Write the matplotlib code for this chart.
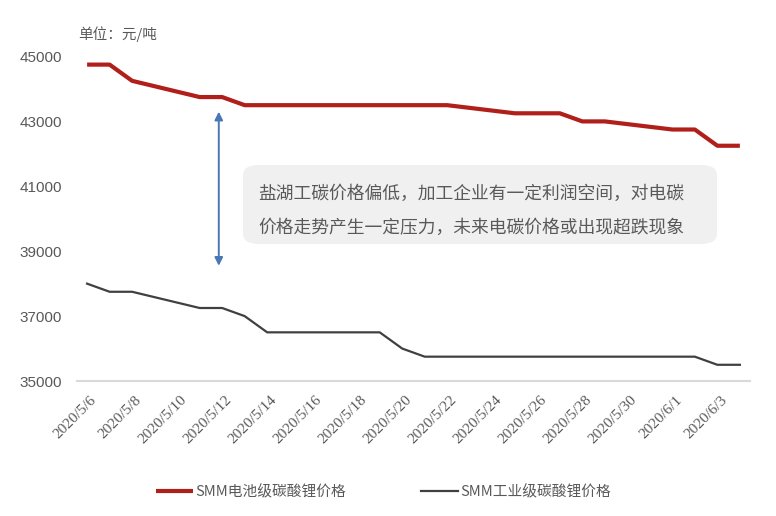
import matplotlib
matplotlib.use("Agg")
import matplotlib.pyplot as plt
import matplotlib.transforms as mtransforms
import pandas as pd

# ---- data ----
dates = ["2020/5/6", "2020/5/7", "2020/5/8", "2020/5/11", "2020/5/12", "2020/5/13",
         "2020/5/14", "2020/5/15", "2020/5/18", "2020/5/19", "2020/5/20", "2020/5/21",
         "2020/5/22", "2020/5/25", "2020/5/26", "2020/5/27", "2020/5/28", "2020/5/29",
         "2020/6/1", "2020/6/2", "2020/6/3", "2020/6/4"]
battery = [44750, 44750, 44250, 43750, 43750, 43500,
           43500, 43500, 43500, 43500, 43500, 43500,
           43500, 43250, 43250, 43250, 43000, 43000,
           42750, 42750, 42250, 42250]
industrial = [38000, 37750, 37750, 37250, 37250, 37000,
              36500, 36500, 36500, 36500, 36000, 35750,
              35750, 35750, 35750, 35750, 35750, 35750,
              35750, 35750, 35500, 35500]
tick_labels = ["2020/5/6", "2020/5/8", "2020/5/10", "2020/5/12", "2020/5/14",
               "2020/5/16", "2020/5/18", "2020/5/20", "2020/5/22", "2020/5/24",
               "2020/5/26", "2020/5/28", "2020/5/30", "2020/6/1", "2020/6/3"]
y_ticks = [35000, 37000, 39000, 41000, 43000, 45000]
series_names = ["SMM电池级碳酸锂价格", "SMM工业级碳酸锂价格"]
unit_label = "单位：元/吨"
note = "盐湖工碳价格偏低，加工企业有一定利润空间，对电碳\n价格走势产生一定压力，未来电碳价格或出现超跌现象"

plt.rcParams['font.family'] = ['Noto Sans CJK SC', 'DejaVu Sans']
TXT = "#595959"

base = pd.Timestamp("2020-05-06")
x = [(pd.Timestamp(d.replace("/", "-")) - base).days for d in dates]
tx = [(pd.Timestamp(d.replace("/", "-")) - base).days for d in tick_labels]

fig = plt.figure(figsize=(7.76, 5.16), dpi=100)
ax = fig.add_axes([0.0992, 0.2616, 0.9665 - 0.0992, 0.8905 - 0.2616])

l1, = ax.plot(x, battery, color="#b01f1a", lw=3.0, solid_capstyle="butt", solid_joinstyle="round")
l2, = ax.plot(x, industrial, color="#404040", lw=1.6, solid_joinstyle="round")

ax.set_xlim(-0.45, 29.45)
ax.set_ylim(35000, 45000)
for s in ["top", "right", "left"]:
    ax.spines[s].set_visible(False)
ax.spines["bottom"].set_color("#d9d9d9")
ax.spines["bottom"].set_linewidth(1.5)

ax.set_yticks(y_ticks)
ax.set_yticklabels([str(v) for v in y_ticks], family="Liberation Sans", fontsize=11, color=TXT)
ax.tick_params(axis="y", length=0, pad=11)

ax.set_xticks(tx)
ax.set_xticklabels(tick_labels, rotation=45, ha="right", va="top", rotation_mode="anchor",
                   family="Liberation Serif", fontsize=11, color=TXT)
ax.tick_params(axis="x", length=0, pad=6)
off = mtransforms.ScaledTranslation(3 / 100, -4 / 100, fig.dpi_scale_trans)
for lab in ax.get_xticklabels():
    lab.set_transform(lab.get_transform() + off)

# annotation arrow
ax.annotate("", xy=(5.85, 43300), xytext=(5.85, 38550),
            arrowprops=dict(arrowstyle="<|-|>", color="#4a78b5", lw=1.4,
                            mutation_scale=12, shrinkA=0, shrinkB=0))

# note box
fig.patches.append(matplotlib.patches.FancyBboxPatch(
    (243 / 776, 1 - 244 / 516), (717 - 243) / 776, (244 - 165) / 516,
    boxstyle="round,pad=0,rounding_size=0.02", transform=fig.transFigure,
    facecolor="#f0f0f0", edgecolor="none", zorder=0))
fig.text(258 / 776, 1 - 211 / 516, note, fontsize=12.8, color=TXT, va="center", ha="left",
         linespacing=2.2)

fig.text(78 / 776, 1 - 34 / 516, unit_label, fontsize=10.5, color=TXT, va="center", ha="left")

leg = fig.legend([l1, l2], series_names, loc="center", bbox_to_anchor=(0.494, 1 - 492 / 516),
                 ncol=2, frameon=False, fontsize=10.6, labelcolor=TXT, handlelength=2.5,
                 handletextpad=0.15, columnspacing=5.1)

fig.savefig("out.png", dpi=100)
